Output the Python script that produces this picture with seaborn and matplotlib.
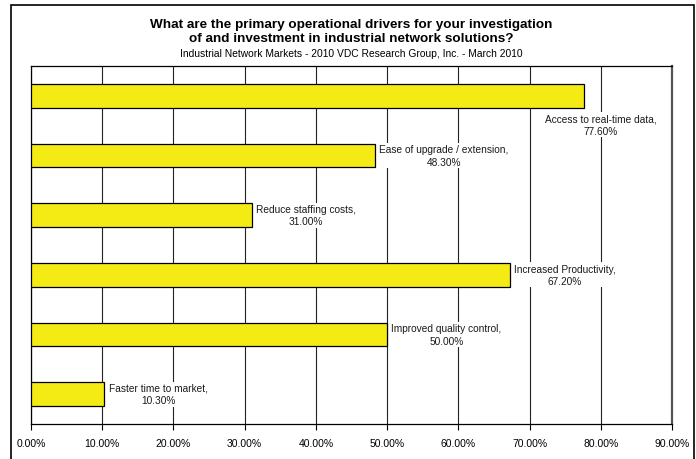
import matplotlib
matplotlib.use("Agg")
import matplotlib.pyplot as plt
import seaborn as sns
from matplotlib.patches import Rectangle
from matplotlib.ticker import FuncFormatter

drivers = [
    "Access to real-time data",
    "Ease of upgrade / extension",
    "Reduce staffing costs",
    "Increased Productivity",
    "Improved quality control",
    "Faster time to market",
]
shares = [77.6, 48.3, 31.0, 67.2, 50.0, 10.3]
ticks = [0, 10, 20, 30, 40, 50, 60, 70, 80, 90]

sns.set_style("white")
plt.rcParams["font.family"] = ["Liberation Sans", "DejaVu Sans"]
plt.rcParams["text.color"] = "black"
plt.rcParams["xtick.color"] = "black"

fig = plt.figure(figsize=(6.96, 4.6), dpi=100)
ax = fig.add_axes([31 / 696, 1 - 425 / 460, (672 - 31) / 696, (425 - 67) / 460])

sns.barplot(x=shares, y=drivers, orient="h", color="#F5EB14", saturation=1,
            edgecolor="black", linewidth=0.9, width=0.4, ax=ax, zorder=3)

ax.set_xlim(0, 90)
ax.set_xticks(ticks)
ax.xaxis.set_major_formatter(FuncFormatter(lambda v, p: f"{v:.2f}%"))
ax.tick_params(axis="x", labelsize=7.5, length=4, width=0.8, color="black",
               labelcolor="black", direction="out", bottom=True, pad=6)
ax.set_yticks([])
ax.set_xlabel("")
ax.set_ylabel("")
ax.grid(axis="x", color="#222222", linewidth=0.8, zorder=0)
for side in ["left", "bottom", "top"]:
    ax.spines[side].set_color("black")
    ax.spines[side].set_linewidth(0.9)
ax.spines["right"].set_color("#555555")
ax.spines["right"].set_linewidth(1.6)

# labels sit to the right of the bar end, or below it for the longest bar
for i, (name, val) in enumerate(zip(drivers, shares)):
    label = f"{name},\n{val:.2f}%"
    if val > 70:
        ax.text(val + 2.4, i + 0.48, label, ha="center", va="center",
                fontsize=7.3, linespacing=1.3, zorder=4, color="#1a1a1a",
                bbox=dict(facecolor="white", edgecolor="none", pad=1))
    else:
        ax.text(val + 0.6, i, label, ha="left", va="center", multialignment="center",
                fontsize=7.3, linespacing=1.3, zorder=4, color="#1a1a1a",
                bbox=dict(facecolor="white", edgecolor="none", pad=1))

cx = (31 + 672) / 2 / 696
fig.text(cx, 1 - 25 / 460, "What are the primary operational drivers for your investigation",
         ha="center", va="center", fontsize=9.7, fontweight="bold")
fig.text(cx, 1 - 39 / 460, "of and investment in industrial network solutions?",
         ha="center", va="center", fontsize=9.7, fontweight="bold")
fig.text(cx, 1 - 54 / 460, "Industrial Network Markets - 2010 VDC Research Group, Inc. - March 2010",
         ha="center", va="center", fontsize=7.4)

fig.patches.append(Rectangle((11 / 696, -0.05), (694 - 11) / 696, 1.05 - 6 / 460,
                             transform=fig.transFigure, fill=False,
                             edgecolor="black", linewidth=1.2))

fig.savefig("out.png", dpi=100)
